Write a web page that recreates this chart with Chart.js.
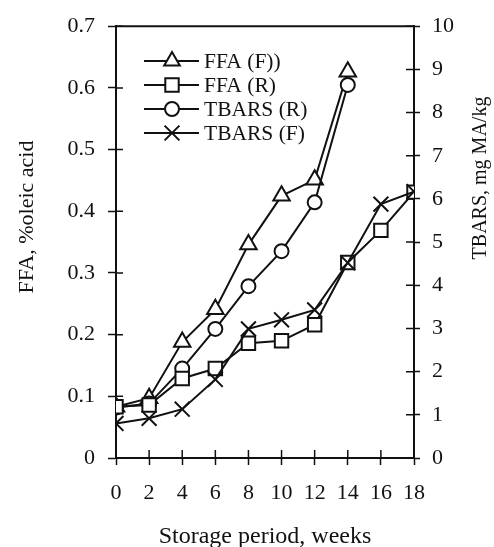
<!DOCTYPE html>
<html>
<head>
<meta charset="utf-8">
<script src="https://cdn.jsdelivr.net/npm/chart.js@4.4.1/dist/chart.umd.min.js"></script>
<style>
  html, body { margin: 0; padding: 0; background: #fff; }
  #wrap { width: 494px; height: 547px; }
</style>
</head>
<body>
<div id="wrap"><canvas id="chart" width="494" height="547"></canvas></div>
<script>
// storage weeks
const weeks = [0, 2, 4, 6, 8, 10, 12, 14, 16, 18];

// FFA, % oleic acid (left axis)
const ffaF = [0.083, 0.097, 0.188, 0.241, 0.346, 0.425, 0.451, 0.626];
const ffaR = [0.083, 0.086, 0.129, 0.145, 0.186, 0.190, 0.216, 0.317, 0.369, 0.431];

// TBARS, mg MA/kg (right axis)
const tbarsR = [1.17, 1.26, 2.07, 2.99, 3.98, 4.79, 5.92, 8.64];
const tbarsF = [0.80, 0.92, 1.13, 1.82, 2.99, 3.20, 3.43, 4.52, 5.88, 6.17];

const leftTicks = [0, 0.1, 0.2, 0.3, 0.4, 0.5, 0.6, 0.7];
const rightTicks = [0, 1, 2, 3, 4, 5, 6, 7, 8, 9, 10];

const FONT = '"Liberation Serif", "Times New Roman", serif';
const INK = '#111';

function pts(vals) {
  return vals.map((v, i) => ({ x: weeks[i], y: v }));
}

// legend entries, top to bottom
const legendItems = [
  { text: 'FFA (F))', style: 'triangle' },
  { text: 'FFA (R)', style: 'rect' },
  { text: 'TBARS (R)', style: 'circle' },
  { text: 'TBARS (F)', style: 'crossRot' },
];

function marker(ctx, style, x, y) {
  ctx.save();
  ctx.lineWidth = 2;
  ctx.strokeStyle = INK;
  ctx.fillStyle = '#fff';
  ctx.beginPath();
  if (style === 'triangle') {
    ctx.moveTo(x, y - 9);
    ctx.lineTo(x + 7.8, y + 4.5);
    ctx.lineTo(x - 7.8, y + 4.5);
    ctx.closePath();
    ctx.fill(); ctx.stroke();
  } else if (style === 'rect') {
    ctx.rect(x - 6.7, y - 6.7, 13.4, 13.4);
    ctx.fill(); ctx.stroke();
  } else if (style === 'circle') {
    ctx.arc(x, y, 7, 0, Math.PI * 2);
    ctx.fill(); ctx.stroke();
  } else {
    ctx.moveTo(x - 7.4, y - 7.4); ctx.lineTo(x + 7.4, y + 7.4);
    ctx.moveTo(x + 7.4, y - 7.4); ctx.lineTo(x - 7.4, y + 7.4);
    ctx.stroke();
  }
  ctx.restore();
}

const decor = {
  id: 'decor',
  afterDraw(chart) {
    const ctx = chart.ctx;
    const a = chart.chartArea;
    const sx = chart.scales.x, sy = chart.scales.y, sy2 = chart.scales.y2;
    ctx.save();
    // top frame line
    ctx.strokeStyle = INK;
    ctx.lineWidth = 2;
    ctx.beginPath();
    ctx.moveTo(a.left - 1, a.top);
    ctx.lineTo(a.right + 1, a.top);
    ctx.stroke();

    // inner halves of the crossing ticks
    ctx.lineWidth = 1.5;
    ctx.beginPath();
    leftTicks.forEach(v => {
      const y = sy.getPixelForValue(v);
      ctx.moveTo(a.left, y); ctx.lineTo(a.left + 7, y);
    });
    rightTicks.forEach(v => {
      const y = sy2.getPixelForValue(v);
      ctx.moveTo(a.right, y); ctx.lineTo(a.right - 8, y);
    });
    weeks.forEach(w => {
      const x = sx.getPixelForValue(w);
      ctx.moveTo(x, a.bottom); ctx.lineTo(x, a.bottom - 8);
    });
    ctx.stroke();

    // legend
    ctx.font = '21.5px ' + FONT;
    ctx.textBaseline = 'middle';
    const rows = [61, 85, 109, 133];
    legendItems.forEach((it, i) => {
      const y = rows[i];
      ctx.strokeStyle = INK;
      ctx.lineWidth = 2;
      ctx.beginPath();
      ctx.moveTo(144, y); ctx.lineTo(199, y);
      ctx.stroke();
      marker(ctx, it.style, 172, y);
      ctx.fillStyle = INK;
      ctx.textAlign = 'left';
      ctx.fillText(it.text, 204, y + 1);
    });

    // axis titles
    ctx.fillStyle = INK;
    ctx.font = '24px ' + FONT;
    ctx.textAlign = 'center';
    ctx.textBaseline = 'middle';
    ctx.fillText('Storage period, weeks', (a.left + a.right) / 2, 537);

    ctx.save();
    ctx.translate(27, 217);
    ctx.rotate(-Math.PI / 2);
    ctx.font = '22px ' + FONT;
    ctx.fillText('FFA, %oleic acid', 0, 0);
    ctx.restore();

    ctx.save();
    ctx.translate(481, 178);
    ctx.rotate(-Math.PI / 2);
    ctx.font = '20px ' + FONT;
    ctx.fillText('TBARS, mg MA/kg', 0, 0);
    ctx.restore();

    ctx.restore();
  }
};

const common = {
  borderColor: INK,
  borderWidth: 2,
  pointBorderColor: INK,
  pointBackgroundColor: '#fff',
  pointBorderWidth: 2,
  tension: 0,
  fill: false,
};

const chart = new Chart(document.getElementById('chart'), {
  type: 'line',
  data: {
    datasets: [
      Object.assign({}, common, { label: 'TBARS (F)', data: pts(tbarsF), yAxisID: 'y2',
        pointStyle: 'crossRot', pointRadius: 10.5, order: 0 }),
      Object.assign({}, common, { label: 'FFA (R)', data: pts(ffaR), yAxisID: 'y',
        pointStyle: 'rect', pointRadius: 9.5, order: 1 }),
      Object.assign({}, common, { label: 'TBARS (R)', data: pts(tbarsR), yAxisID: 'y2',
        pointStyle: 'circle', pointRadius: 7, order: 2 }),
      Object.assign({}, common, { label: 'FFA (F))', data: pts(ffaF), yAxisID: 'y',
        pointStyle: 'triangle', pointRadius: 9.5, order: 3 }),
    ],
  },
  options: {
    responsive: false,
    animation: false,
    layout: { padding: { top: 23, left: 0, right: 0, bottom: 0 } },
    plugins: { legend: { display: false }, tooltip: { enabled: false } },
    scales: {
      x: {
        type: 'linear', min: 0, max: 18,
        afterFit: s => { s.height = 89; },
        afterBuildTicks: s => { s.ticks = weeks.map(v => ({ value: v })); },
        ticks: { color: INK, font: { family: FONT, size: 22 }, padding: 15, maxRotation: 0 },
        grid: { drawOnChartArea: false, tickLength: 7, tickColor: INK, tickWidth: 1.5 },
        border: { color: INK, width: 2 },
      },
      y: {
        position: 'left', min: 0, max: 0.7,
        afterFit: s => { s.width = 116; },
        afterBuildTicks: s => { s.ticks = leftTicks.map(v => ({ value: v })); },
        ticks: { color: INK, font: { family: FONT, size: 22 }, padding: 13,
          callback: v => (v === 0 ? '0' : v.toFixed(1)) },
        grid: { drawOnChartArea: false, tickLength: 8, tickColor: INK, tickWidth: 1.5 },
        border: { color: INK, width: 2 },
      },
      y2: {
        position: 'right', min: 0, max: 10,
        afterFit: s => { s.width = 80; },
        afterBuildTicks: s => { s.ticks = rightTicks.map(v => ({ value: v })); },
        ticks: { color: INK, font: { family: FONT, size: 22 }, padding: 12 },
        grid: { drawOnChartArea: false, tickLength: 6, tickColor: INK, tickWidth: 1.5 },
        border: { color: INK, width: 2 },
      },
    },
  },
  plugins: [decor],
});
</script>
</body>
</html>
